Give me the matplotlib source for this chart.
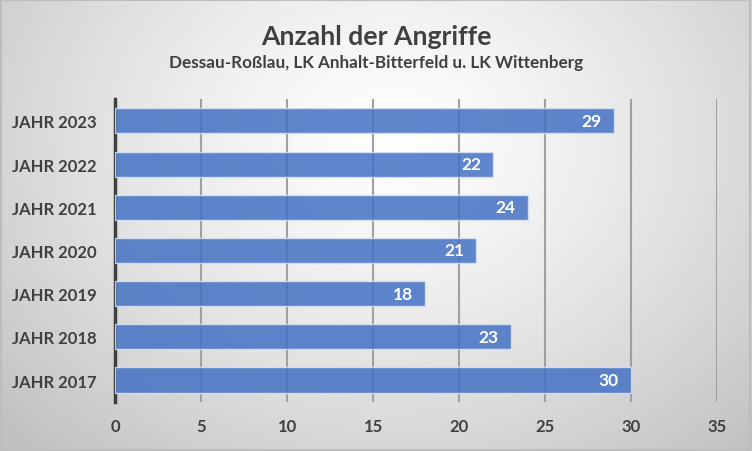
import numpy as np
import matplotlib.pyplot as plt

plt.rcParams['font.family'] = ['Lato', 'DejaVu Sans']

years = ['JAHR 2017', 'JAHR 2018', 'JAHR 2019', 'JAHR 2020', 'JAHR 2021', 'JAHR 2022', 'JAHR 2023']
attacks = [30, 23, 18, 21, 24, 22, 29]
xticks = [0, 5, 10, 15, 20, 25, 30, 35]

fig = plt.figure(figsize=(7.52, 4.52), dpi=100)

# radial background gradient
bg = fig.add_axes([0, 0, 1, 1], zorder=-1)
yy, xx = np.mgrid[0:452, 0:752]
r = np.sqrt(((xx - 390) / 520.0) ** 2 + ((yy - 140) / 420.0) ** 2)
shade = 1.0 - 0.24 * np.clip(r, 0, 1) ** 1.3
bg.imshow(np.dstack([shade, shade, shade]), aspect='auto', extent=[0, 1, 0, 1])
bg.set_xlim(0, 1)
bg.set_ylim(0, 1)
bg.axis('off')
bg.add_patch(plt.Rectangle((0.001, 0.002), 0.997, 0.995, fill=False,
                           edgecolor='#bdbdbd', linewidth=1.5))

ax = fig.add_axes([0.1529, 0.1093, 0.8006, 0.6686])
ax.patch.set_alpha(0)

y = np.arange(len(years))
ax.barh(y, attacks, height=0.58, color='#4472C4', alpha=0.85,
        edgecolor='#dbe4f5', linewidth=1, zorder=3)
for yi, v in zip(y, attacks):
    ax.text(v - 0.7, yi, str(v), ha='right', va='center', color='white',
            fontsize=12.5, fontweight='bold', zorder=4)

ax.set_xlim(0, 35)
ax.set_ylim(-0.5, 6.5)
ax.set_xticks(xticks)
ax.set_yticks(y)
ax.set_yticklabels(years)
for xt in xticks[1:]:
    ax.axvline(xt, color='#a0a0a0', linewidth=1.5, zorder=2)

for s in ['top', 'right', 'bottom']:
    ax.spines[s].set_visible(False)
ax.spines['left'].set_color('#404040')
ax.spines['left'].set_linewidth(2.5)
ax.tick_params(axis='both', length=0, colors='#404040', labelsize=12)
ax.tick_params(axis='x', pad=12)
ax.tick_params(axis='y', pad=13)
for lab in ax.get_xticklabels() + ax.get_yticklabels():
    lab.set_fontweight('bold')

fig.text(0.5, 0.918, 'Anzahl der Angriffe', ha='center', va='center',
         fontsize=19.2, fontweight='bold', color='#404040')
fig.text(0.5, 0.861, 'Dessau-Roßlau, LK Anhalt-Bitterfeld u. LK Wittenberg',
         ha='center', va='center', fontsize=12.3, fontweight='bold', color='#404040')

fig.savefig('out.png', dpi=100)
